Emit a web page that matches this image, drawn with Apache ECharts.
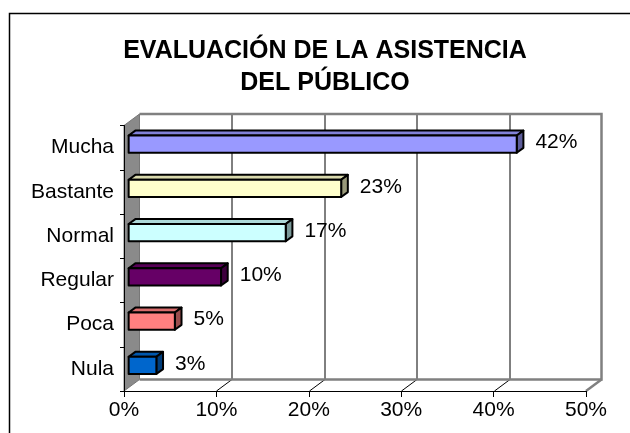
<!DOCTYPE html>
<html>
<head>
<meta charset="utf-8">
<title>Evaluación de la asistencia del público</title>
<script src="https://cdn.jsdelivr.net/npm/echarts@6/dist/echarts.min.js"></script>
<style>
  html, body { margin: 0; padding: 0; background: #fff; }
  #chart { width: 630px; height: 433px; }
</style>
</head>
<body>
<div id="chart"></div>
<script>
// Attendance rating, percentage of answers per level
const categories = ['Mucha', 'Bastante', 'Normal', 'Regular', 'Poca', 'Nula'];
const values = [42, 23, 17, 10, 5, 3];
const barColors = ['#9999FF', '#FFFFCC', '#CCFFFF', '#660066', '#FF8080', '#0066CC'];
const xTicks = [0, 10, 20, 30, 40, 50];

// Depth of the 3D box (pixels the back plane is shifted right / up)
const DX = 15.5, DY = 11.5;
// Bar position inside the depth (0 = front plane, 1 = back wall)
const F_FRONT = 0.3, F_BACK = 0.73;
const FONT = 'Liberation Sans, Arial, sans-serif';
const LABEL_SIZE = 21;

function shade(hex, k) {
  const n = parseInt(hex.slice(1), 16);
  const r = Math.round(((n >> 16) & 255) * k);
  const g = Math.round(((n >> 8) & 255) * k);
  const b = Math.round((n & 255) * k);
  return 'rgb(' + r + ',' + g + ',' + b + ')';
}

const chart = echarts.init(document.getElementById('chart'), null, { renderer: 'canvas' });

// Walls, floor and back-wall gridlines of the 3D frame
function renderWalls(params, api) {
  const cs = params.coordSys;
  const x0 = cs.x, x1 = cs.x + cs.width, y0 = cs.y, y1 = cs.y + cs.height;
  const children = [];
  // back wall
  children.push({ type: 'polygon', shape: { points: [[x0 + DX, y0 - DY], [x1 + DX, y0 - DY], [x1 + DX, y1 - DY], [x0 + DX, y1 - DY]] },
    style: { fill: '#ffffff', stroke: null } });
  // left side wall
  children.push({ type: 'polygon', shape: { points: [[x0, y0], [x0 + DX, y0 - DY], [x0 + DX, y1 - DY], [x0, y1]] },
    style: { fill: '#8a8a8a', stroke: '#777777', lineWidth: 1 } });
  // gridlines on the back wall and across the floor
  xTicks.forEach(function (t) {
    if (t === xTicks[0] || t === xTicks[xTicks.length - 1]) return;
    const p = api.coord([t, 0]);
    const gx = Math.round(p[0]) + 0.5;
    children.push({ type: 'line', shape: { x1: gx + DX, y1: y0 - DY, x2: gx + DX, y2: y1 - DY },
      style: { stroke: '#000', lineWidth: 1 } });
    children.push({ type: 'line', shape: { x1: gx, y1: y1, x2: gx + DX, y2: y1 - DY },
      style: { stroke: '#000', lineWidth: 1 } });
  });
  // wall outline (top, right, bottom edges) and right floor edge
  children.push({ type: 'polyline', shape: { points: [[x0 + DX, y0 - DY], [x1 + DX, y0 - DY], [x1 + DX, y1 - DY], [x0 + DX, y1 - DY]] },
    style: { stroke: '#808080', lineWidth: 2.5, fill: null } });
  children.push({ type: 'line', shape: { x1: x1 + DX, y1: y1 - DY, x2: x1, y2: y1 },
    style: { stroke: '#808080', lineWidth: 2.5 } });
  return { type: 'group', children: children };
}

// 3D bar: front face, top face, right side face, plus value label
function renderBar(params, api) {
  const idx = api.value(1);
  const v = api.value(0);
  const base = api.coord([0, idx]);
  const end = api.coord([v, idx]);
  const band = api.size([0, 1])[1];
  const h = band * 0.39;
  const color = barColors[params.dataIndex];
  const fx0 = base[0] + DX * F_FRONT;
  const fx1 = end[0] + DX * F_FRONT;
  const yc = base[1] - DY * F_FRONT;
  const ty = yc - h / 2, by = yc + h / 2;
  const ox = DX * (F_BACK - F_FRONT), oy = DY * (F_BACK - F_FRONT);
  const line = { stroke: '#000', lineWidth: 2, lineJoin: 'round' };
  return {
    type: 'group',
    children: [
      { type: 'polygon', shape: { points: [[fx0, ty], [fx1, ty], [fx1 + ox, ty - oy], [fx0 + ox, ty - oy]] },
        style: Object.assign({ fill: shade(color, 0.85) }, line) },
      { type: 'polygon', shape: { points: [[fx1, ty], [fx1 + ox, ty - oy], [fx1 + ox, by - oy], [fx1, by]] },
        style: Object.assign({ fill: shade(color, 0.6) }, line) },
      { type: 'rect', shape: { x: fx0, y: ty, width: fx1 - fx0, height: by - ty },
        style: Object.assign({ fill: color }, line) },
      { type: 'text', style: { text: v + '%', x: fx1 + ox + 12, y: base[1] - 5,
        fill: '#000', fontSize: LABEL_SIZE, fontFamily: FONT, align: 'left', verticalAlign: 'middle' } }
    ]
  };
}

const option = {
  animation: false,
  backgroundColor: '#ffffff',
  title: {
    text: 'EVALUACIÓN DE LA ASISTENCIA\nDEL PÚBLICO',
    left: 320,
    top: 30,
    textAlign: 'center',
    textStyle: { fontFamily: FONT, fontWeight: 'bold', fontSize: 25, lineHeight: 32, color: '#000' }
  },
  graphic: [{
    type: 'rect', left: 7, top: 11, z: 100,
    shape: { x: 0, y: 0, width: 700, height: 500 },
    style: { fill: null, stroke: '#000', lineWidth: 1.5 }
  }],
  grid: { left: 124, right: 44, top: 125.5, bottom: 42 },
  xAxis: {
    type: 'value', min: 0, max: 50, interval: 10, z: 10,
    axisLine: { show: true, lineStyle: { color: '#000', width: 1 } },
    axisTick: { show: true, length: 6, lineStyle: { color: '#000' } },
    splitLine: { show: false },
    axisLabel: { formatter: '{value}%', color: '#000', fontSize: LABEL_SIZE, fontFamily: FONT, margin: 9 }
  },
  yAxis: {
    type: 'category', inverse: true, data: categories, z: 10,
    axisLine: { show: true, lineStyle: { color: '#000', width: 1 } },
    axisTick: { show: true, length: 4, lineStyle: { color: '#000' } },
    axisLabel: { color: '#000', fontSize: LABEL_SIZE, fontFamily: FONT, margin: 10 }
  },
  series: [
    { type: 'custom', z: 1, renderItem: renderWalls, data: [[0, 0]], silent: true },
    { type: 'custom', z: 3, renderItem: renderBar,
      data: values.map(function (v, i) { return [v, i]; }) }
  ]
};
chart.setOption(option);
</script>
</body>
</html>
